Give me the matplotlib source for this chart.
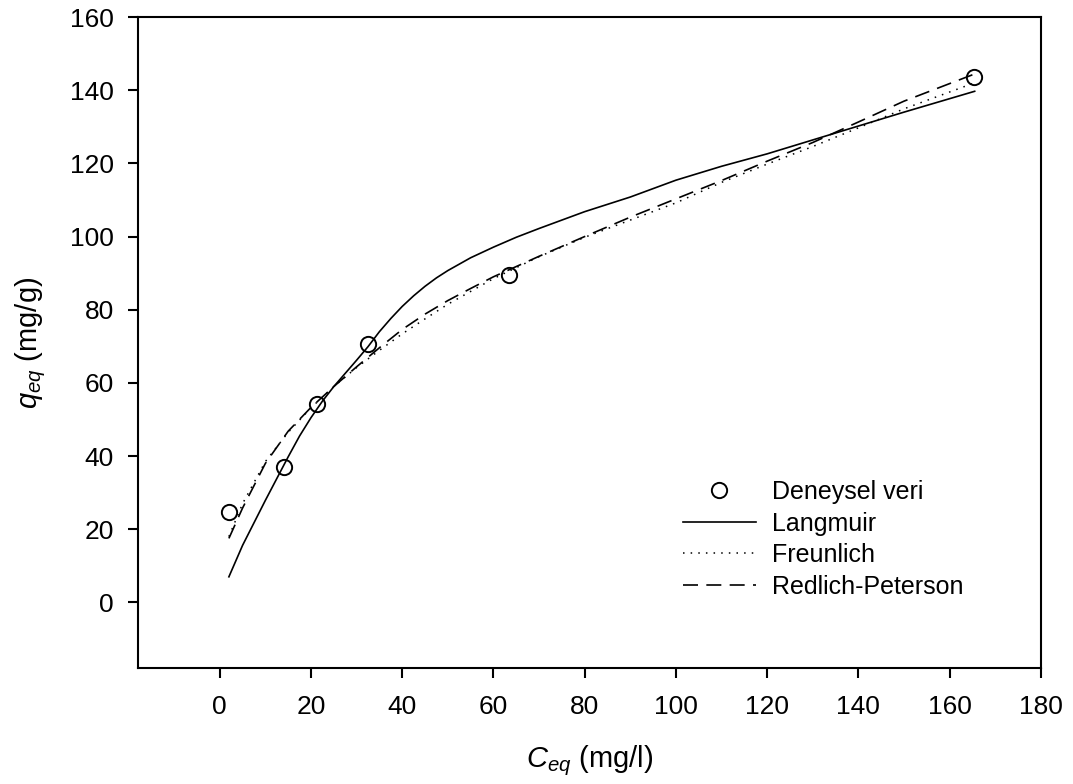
import matplotlib as mpl
mpl.use("Agg")
import matplotlib.pyplot as plt

c_exp = [2.0, 14.1, 21.4, 32.4, 63.4, 165.4]
q_exp = [24.6, 36.9, 54.3, 70.5, 89.6, 143.6]

# model curves
c_lang = [2, 5, 10, 15, 17.5, 20, 22.5, 25, 27.5, 30, 32.5, 35, 37.5, 40, 42.5, 45, 47.5, 50,
          55, 60, 65, 70, 80, 90, 100, 110, 120, 130, 140, 150, 165.5]
q_lang = [7.0, 15.6, 27.9, 39.8, 45.5, 50.5, 55.0, 59.0, 62.6, 66.2, 69.9, 74.0, 77.6, 80.9, 83.8,
          86.4, 88.7, 90.7, 94.2, 97.1, 99.8, 102.2, 106.8, 110.8, 115.4, 119.2, 122.6, 126.4,
          130.2, 134.0, 139.7]

c_freu = [2, 5, 10, 15, 20, 25, 30, 35, 40, 45, 50, 60, 70, 80, 90, 100, 110, 120, 130, 140, 150, 165]
q_freu = [18.0, 27.0, 38.5, 46.5, 53.2, 59.0, 64.2, 68.9, 73.4, 77.5, 81.5, 88.5, 94.5, 99.8, 104.5,
          109.2, 114.8, 119.8, 124.6, 129.7, 134.9, 141.8]

c_rp = [2, 5, 10, 15, 20, 25, 30, 35, 40, 45, 50, 55, 60, 70, 80, 90, 100, 110, 120, 130, 140, 150, 165]
q_rp = [17.5, 25.8, 38.0, 46.8, 53.3, 59.0, 64.4, 69.6, 74.6, 78.8, 82.5, 85.8, 89.0, 94.6, 100.0,
        105.3, 110.3, 115.3, 120.6, 125.7, 131.3, 137.0, 144.2]

x_ticks = [0, 20, 40, 60, 80, 100, 120, 140, 160, 180]
y_ticks = [0, 20, 40, 60, 80, 100, 120, 140, 160]

mpl.rcParams.update({
    "font.family": "Liberation Sans",
    "mathtext.fontset": "custom",
    "mathtext.rm": "Liberation Sans",
    "mathtext.it": "Liberation Sans:italic",
})

fig = plt.figure(figsize=(10.73, 7.84), dpi=100)
ax = fig.add_axes([0.1283, 0.1476, 0.8417, 0.8307])

ax.plot(c_exp, q_exp, "o", ms=11, mfc="none", mec="black", mew=1.4, label="Deneysel veri", zorder=5)
ax.plot(c_lang, q_lang, "-", color="black", lw=1.2, label="Langmuir")
ax.plot(c_freu, q_freu, color="black", lw=1.1, ls=(0, (1, 4)), label="Freunlich")
ax.plot(c_rp, q_rp, color="black", lw=1.2, ls=(0, (9, 5)), label="Redlich-Peterson")

ax.set_xlim(-18, 180)
ax.set_ylim(-18, 160)
ax.set_xticks(x_ticks)
ax.set_yticks(y_ticks)
ax.tick_params(direction="out", length=7, width=1.5, labelsize=19, top=False, right=False)
ax.tick_params(axis="x", pad=12)
ax.tick_params(axis="y", pad=10)
for s in ax.spines.values():
    s.set_linewidth(1.5)

ax.set_xlabel(r"$C_{eq}$ (mg/l)", fontsize=21, labelpad=18)
ax.set_ylabel(r"$q_{eq}$ (mg/g)", fontsize=21, labelpad=16)

ax.legend(loc="upper left", bbox_to_anchor=(683 / 1073, 1 - 480 / 784), bbox_transform=fig.transFigure,
          frameon=False, fontsize=18, handlelength=2.9, handletextpad=0.65, labelspacing=0.3,
          borderpad=0, borderaxespad=0)

fig.savefig("out.png", dpi=100)
